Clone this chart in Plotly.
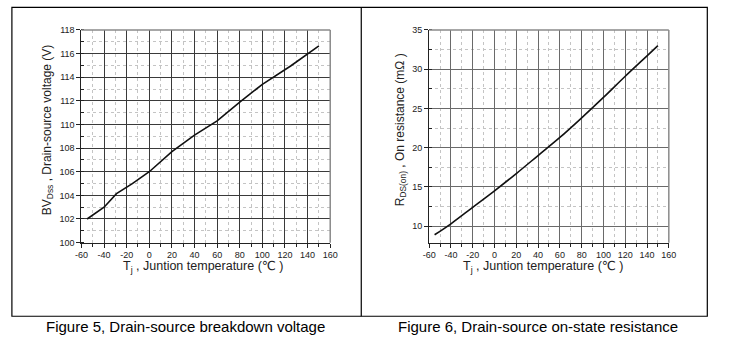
import plotly.graph_objects as go

# ---- data ----
tj_bv = [-55, -40, -29, -15, 0, 20, 40, 60, 80, 100, 125, 150]
bv_dss = [102.0, 103.0, 104.15, 105.0, 106.0, 107.7, 109.1, 110.3, 111.9, 113.4, 114.95, 116.65]

tj_rds = [-55, -40, -20, 0, 20, 40, 60, 80, 100, 120, 140, 150]
rds_on = [8.9, 10.3, 12.4, 14.5, 16.7, 19.0, 21.3, 23.8, 26.4, 29.1, 31.7, 33.0]

x_ticks = [-60, -40, -20, 0, 20, 40, 60, 80, 100, 120, 140, 160]
x_tick_labels = [str(v) for v in x_ticks]

W, H = 730, 346
def px(x):
    return x / W
def py(y):
    return 1 - y / H

FONT = "Liberation Sans, Arial, DejaVu Sans, sans-serif"

fig = go.Figure()
fig.add_trace(go.Scatter(x=tj_bv, y=bv_dss, mode="lines",
                         line=dict(color="#111111", width=1.6), xaxis="x", yaxis="y",
                         showlegend=False, hoverinfo="skip"))
fig.add_trace(go.Scatter(x=tj_rds, y=rds_on, mode="lines", line_shape="spline",
                         line=dict(color="#111111", width=1.6), xaxis="x2", yaxis="y2",
                         showlegend=False, hoverinfo="skip"))

def xaxis(domain, anchor, gridcolor):
    return dict(domain=domain, anchor=anchor, range=[-60, 160],
                tickmode="array", tickvals=x_ticks, ticktext=x_tick_labels,
                showline=True, linecolor="#222", linewidth=1,
                showgrid=True, gridcolor=gridcolor, gridwidth=1,
                ticks="outside", ticklen=4, tickcolor="#222",
                tickfont=dict(family=FONT, size=9, color="#222"),
                zeroline=False, fixedrange=True,
                minor=dict(dtick=10, tick0=0, showgrid=True, gridcolor="#c4c4c4",
                           griddash="dot", gridwidth=1, ticks="outside", ticklen=3,
                           tickcolor="#222"))

def yaxis(domain, anchor, rng, dtick, mdtick, gridcolor):
    return dict(domain=domain, anchor=anchor, range=rng, dtick=dtick, tick0=0,
                showline=True, linecolor="#222", linewidth=1,
                showgrid=True, gridcolor=gridcolor, gridwidth=1,
                ticks="outside", ticklen=4, tickcolor="#222",
                tickfont=dict(family=FONT, size=9, color="#222"),
                zeroline=False, fixedrange=True,
                minor=dict(dtick=mdtick, tick0=0, showgrid=True, gridcolor="#c4c4c4",
                           griddash="dot", gridwidth=1, ticks="inside", ticklen=3,
                           tickcolor="#222"))

ydom = [py(244.7), py(25.7)]
fig.update_layout(
    width=W, height=H, margin=dict(l=0, r=0, t=0, b=0),
    paper_bgcolor="white", plot_bgcolor="white",
    xaxis=xaxis([px(76), px(330)], "y", "#3a3a3a"),
    yaxis=yaxis(ydom, "x", [100, 118], 2, 1, "#3a3a3a"),
    xaxis2=xaxis([px(431), px(675.7)], "y2", "#6a6a6a"),
    yaxis2=yaxis(ydom, "x2", [7.9, 35], 5, 2.5, "#6a6a6a"),
)

shapes = []
# gray top/right frame of each plot
for xr, yr in (("x domain", "y domain"), ("x2 domain", "y2 domain")):
    shapes.append(dict(type="line", xref=xr, yref=yr, x0=0, x1=1, y0=1, y1=1,
                       line=dict(color="#8a8a8a", width=1.5)))
    shapes.append(dict(type="line", xref=xr, yref=yr, x0=1, x1=1, y0=0, y1=1,
                       line=dict(color="#8a8a8a", width=1.5)))
# outer table frame
shapes.append(dict(type="rect", xref="paper", yref="paper",
                   x0=px(5), x1=px(715), y0=py(320.5), y1=py(2.5),
                   line=dict(color="#000", width=1.2)))
shapes.append(dict(type="line", xref="paper", yref="paper",
                   x0=px(361.7), x1=px(361.7), y0=py(320.5), y1=py(2.5),
                   line=dict(color="#000", width=1.2)))
fig.update_layout(shapes=shapes)

ann = []
def text(x, y, s, size, angle=0, color="#222"):
    ann.append(dict(x=px(x), y=py(y), xref="paper", yref="paper", text=s,
                    showarrow=False, textangle=angle, xanchor="center", yanchor="middle",
                    font=dict(family=FONT, size=size, color=color)))

text(201, 269.5, "T<sub>j</sub> , Juntion temperature (℃ )", 12.5)
text(548, 269.5, "T<sub>j</sub> , Juntion temperature (℃ )", 12.5)
text(41.7, 128, "BV<sub>Dss</sub> , Drain-source voltage (V)", 12, -90)
text(401.7, 128.5, "R<sub>DS(on)</sub> , On resistance (mΩ )", 12, -90)
text(182, 331, "Figure 5, Drain-source breakdown voltage", 15, color="#000")
text(542, 331, "Figure 6, Drain-source on-state resistance", 15, color="#000")
fig.update_layout(annotations=ann)

fig.write_html("out.html")
